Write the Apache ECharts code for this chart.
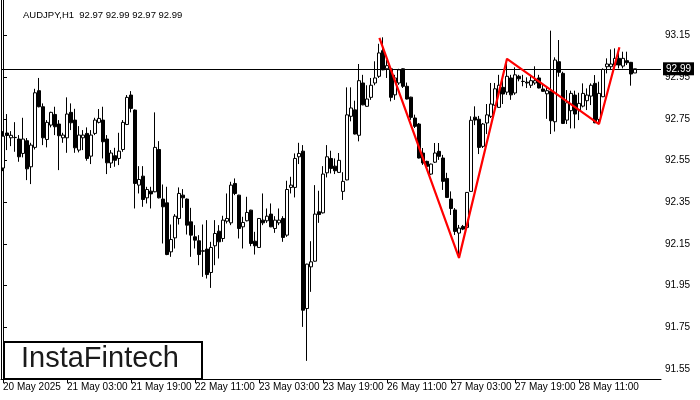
<!DOCTYPE html>
<html><head><meta charset="utf-8">
<script src="https://cdn.jsdelivr.net/npm/echarts@6/dist/echarts.min.js"></script>
<style>html,body{margin:0;padding:0;background:#fff}#c{width:700px;height:400px}</style>
</head><body><div id="c"></div>
<script>
const chartTitle = 'AUDJPY,H1  92.97 92.99 92.97 92.99';
const tickLabels = ['20 May 2025','21 May 03:00','21 May 19:00','22 May 11:00','23 May 03:00','23 May 19:00','26 May 11:00','27 May 03:00','27 May 19:00','28 May 11:00'];
const yTicks = [91.55, 91.75, 91.95, 92.15, 92.35, 92.55, 92.75, 92.95, 93.15];
const lastPrice = 92.99;

const opens = [92.514,92.682,92.659,92.661,92.653,92.584,92.645,92.520,92.613,92.885,
92.808,92.651,92.720,92.771,92.725,92.659,92.659,92.781,92.744,92.600,
92.659,92.680,92.571,92.680,92.733,92.744,92.653,92.538,92.573,92.560,
92.603,92.723,92.864,92.792,92.432,92.475,92.371,92.403,92.400,92.603,
92.365,92.347,92.112,92.179,92.272,92.384,92.365,92.256,92.184,92.165,
92.117,92.125,92.013,92.141,92.211,92.176,92.259,92.251,92.440,92.384,
92.232,92.261,92.312,92.163,92.133,92.264,92.261,92.293,92.224,92.251,
92.272,92.192,92.421,92.421,92.568,92.595,91.840,92.040,92.067,92.304,
92.299,92.491,92.560,92.523,92.493,92.402,92.457,92.762,92.793,92.671,
92.922,92.810,92.853,92.922,92.954,93.077,92.990,92.990,92.865,92.922,
92.990,92.906,92.854,92.754,92.725,92.586,92.546,92.485,92.542,92.594,
92.562,92.464,92.365,92.313,92.202,92.234,92.229,92.402,92.758,92.748,
92.618,92.730,92.762,92.815,92.805,92.901,92.878,92.946,92.874,92.954,
92.930,92.926,92.911,92.922,92.946,92.893,92.870,92.882,92.736,93.024,
92.968,92.744,92.789,92.864,92.792,92.811,92.837,92.859,92.920,92.747,
92.856,93.000,93.000,93.008,93.040,93.003,93.029,93.021,92.970];
const highs = [92.691,92.773,92.691,92.734,92.672,92.755,92.658,92.635,92.894,92.946,
92.824,92.744,92.784,92.808,92.744,92.683,92.853,92.824,92.798,92.715,
92.696,92.709,92.696,92.755,92.797,92.808,92.672,92.600,92.611,92.683,
92.744,92.864,92.883,92.795,92.523,92.523,92.424,92.424,92.781,92.643,
92.435,92.424,92.243,92.293,92.421,92.413,92.368,92.323,92.240,92.192,
92.243,92.264,92.160,92.264,92.240,92.285,92.392,92.448,92.464,92.386,
92.280,92.376,92.314,92.208,92.274,92.392,92.320,92.344,92.283,92.320,
92.283,92.453,92.472,92.584,92.635,92.624,92.055,92.163,92.432,92.405,
92.523,92.624,92.597,92.560,92.586,92.494,92.901,92.901,92.837,93.013,
92.961,92.911,92.946,93.026,93.110,93.141,93.033,92.992,92.961,92.990,
92.992,92.924,92.856,92.770,92.730,92.610,92.549,92.535,92.634,92.634,
92.577,92.491,92.402,92.322,92.241,92.241,92.399,92.762,92.810,92.764,
92.730,92.821,92.922,92.922,92.961,92.961,93.038,92.961,92.997,92.961,
92.961,92.949,92.961,93.002,92.961,92.917,92.898,93.173,93.045,93.128,
92.976,92.888,92.885,92.885,92.875,92.920,92.896,92.920,92.960,92.928,
92.992,93.040,93.083,93.088,93.067,93.072,93.072,93.023,92.990];
const lows = [92.499,92.600,92.619,92.592,92.544,92.565,92.456,92.437,92.603,92.805,
92.624,92.613,92.709,92.672,92.504,92.635,92.587,92.696,92.587,92.589,
92.600,92.549,92.533,92.672,92.728,92.560,92.485,92.514,92.520,92.528,
92.592,92.720,92.781,92.320,92.392,92.328,92.344,92.320,92.398,92.368,
92.152,92.096,92.088,92.128,92.243,92.323,92.195,92.088,92.128,92.048,
91.992,91.984,91.939,92.048,92.080,92.160,92.248,92.240,92.384,92.176,
92.128,92.258,92.139,92.099,92.131,92.240,92.251,92.230,92.203,92.240,
92.160,92.184,92.392,92.373,92.533,91.752,91.589,91.920,92.065,92.251,
92.296,92.469,92.488,92.485,92.490,92.361,92.455,92.738,92.675,92.642,
92.815,92.808,92.841,92.911,92.946,92.983,92.946,92.834,92.841,92.913,
92.898,92.843,92.745,92.706,92.560,92.529,92.520,92.481,92.538,92.553,
92.409,92.370,92.289,92.193,92.082,92.216,92.227,92.400,92.720,92.581,
92.610,92.677,92.754,92.812,92.802,92.821,92.865,92.841,92.865,92.930,
92.906,92.898,92.898,92.913,92.896,92.880,92.750,92.677,92.689,92.952,
92.725,92.725,92.704,92.704,92.744,92.805,92.792,92.816,92.729,92.728,
92.854,92.968,92.984,92.992,92.992,92.992,93.008,92.909,92.970];
const closes = [92.667,92.670,92.671,92.660,92.568,92.653,92.510,92.624,92.875,92.808,
92.659,92.733,92.781,92.712,92.669,92.672,92.773,92.731,92.611,92.672,
92.672,92.560,92.672,92.744,92.752,92.640,92.539,92.586,92.551,92.595,
92.733,92.853,92.800,92.440,92.459,92.363,92.411,92.390,92.613,92.371,
92.328,92.099,92.171,92.283,92.392,92.371,92.240,92.192,92.168,92.099,
92.115,92.003,92.133,92.200,92.160,92.264,92.272,92.432,92.392,92.224,
92.253,92.301,92.152,92.141,92.272,92.251,92.283,92.232,92.264,92.264,
92.181,92.411,92.432,92.560,92.584,91.832,92.053,92.064,92.293,92.291,
92.485,92.568,92.512,92.501,92.551,92.450,92.769,92.802,92.677,92.933,
92.817,92.845,92.911,92.946,93.066,92.985,93.005,92.853,92.946,92.985,
92.906,92.845,92.757,92.714,92.562,92.538,92.522,92.533,92.586,92.570,
92.450,92.373,92.320,92.210,92.226,92.221,92.397,92.743,92.744,92.613,
92.725,92.769,92.821,92.894,92.911,92.869,92.954,92.865,92.961,92.942,
92.929,92.922,92.933,92.933,92.898,92.882,92.885,92.741,93.032,92.973,
92.728,92.827,92.872,92.773,92.824,92.872,92.864,92.911,92.731,92.872,
92.987,93.013,93.013,93.040,93.008,93.040,93.019,92.965,92.990];

// pattern outline (bar position, price)
const patternBars = [94.1, 114, 126, 149, 154.1];
const patternPrices = [93.138, 92.083, 93.038, 92.725, 93.093];

const slotCount = 165;
const tickEvery = 16;
const cats = Array.from({length: slotCount}, (_, i) => String(i));
const ohlc = opens.map((o, i) => [o, closes[i], lows[i], highs[i]]);
const pattern = patternBars.map((b, i) => [b, patternPrices[i]]);
const showTick = (i) => i % tickEvery === 0 && i / tickEvery < tickLabels.length;
const font = 'Liberation Sans';

const chart = echarts.init(document.getElementById('c'), null, {renderer: 'canvas'});
chart.setOption({
  animation: false,
  title: {
    text: chartTitle, left: 18, top: 5,
    textStyle: {fontSize: 9.5, fontWeight: 'normal', color: '#000', fontFamily: font}
  },
  grid: {left: 1, right: 39, top: 0, bottom: 21, show: false},
  xAxis: [{
    type: 'category', data: cats, boundaryGap: true,
    axisLine: {show: true, lineStyle: {color: '#000', width: 1}},
    axisTick: {show: true, alignWithLabel: true, interval: (i) => showTick(i), length: 4, lineStyle: {color: '#000'}},
    axisLabel: {
      interval: (i) => showTick(i),
      formatter: (v, i) => tickLabels[Math.round(i / tickEvery)] || '',
      align: 'left', margin: 3, fontSize: 10, color: '#000', fontFamily: font
    },
    splitLine: {show: false}
  }, {
    type: 'value', min: -0.5, max: slotCount - 0.5, show: false
  }],
  yAxis: [{
    type: 'value', position: 'right', min: 91.502, max: 93.320, scale: true,
    axisLine: {show: true, lineStyle: {color: '#000'}},
    axisTick: {show: true, customValues: yTicks, length: 4, lineStyle: {color: '#000'}},
    axisLabel: {customValues: yTicks, formatter: (v) => v.toFixed(2), fontSize: 10, color: '#000', margin: 4, fontFamily: font},
    splitLine: {show: false}
  }, {
    type: 'value', position: 'left', min: 91.502, max: 93.320, scale: true,
    axisLine: {show: true, onZero: false, lineStyle: {color: '#000'}},
    axisTick: {show: false}, axisLabel: {show: false}, splitLine: {show: false}
  }],
  series: [{
    type: 'candlestick', xAxisIndex: 0, yAxisIndex: 0,
    data: ohlc, barWidth: 3,
    itemStyle: {color: '#fff', color0: '#000', borderColor: '#000', borderColor0: '#000', borderWidth: 1},
    markLine: {
      silent: true, symbol: ['none', 'none'], animation: false,
      lineStyle: {color: '#000', width: 1, type: 'solid'},
      label: {
        show: true, position: 'end', distance: 2, formatter: lastPrice.toFixed(2),
        backgroundColor: '#000', color: '#fff', padding: [2, 3, 1, 3], fontSize: 10, fontFamily: font
      },
      data: [{yAxis: lastPrice}]
    }
  }, {
    type: 'line', xAxisIndex: 1, yAxisIndex: 0, data: pattern,
    symbol: 'none', z: 5,
    lineStyle: {color: '#ff0000', width: 2.2}
  }],
  graphic: [{
    type: 'rect', left: 3, top: 341, z: 100,
    shape: {width: 198, height: 37},
    style: {fill: '#fff', stroke: '#000', lineWidth: 2}
  }, {
    type: 'text', left: 21, top: 344, z: 101,
    style: {text: 'InstaFintech', font: '500 29px "Liberation Sans"', fill: '#1a1a1a'}
  }]
});
</script>
</body></html>
